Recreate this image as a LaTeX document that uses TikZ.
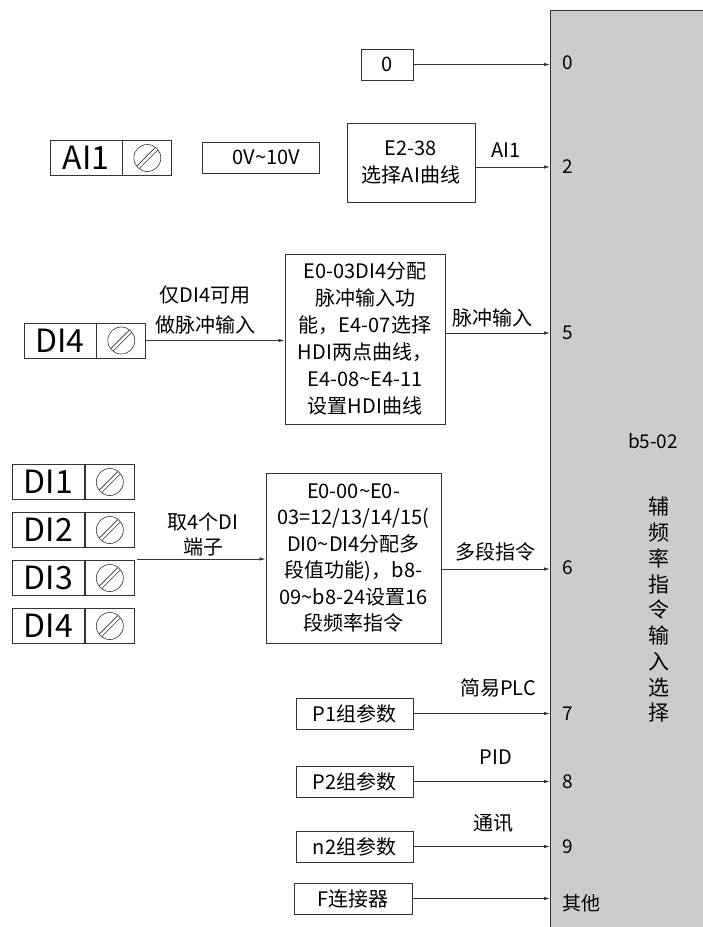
\documentclass[tikz,border=0pt]{standalone}
\usepackage{fontspec}
\setmainfont{Noto Sans CJK SC}
\usepackage{xcolor}
\usepackage{tikz}
\usetikzlibrary{arrows.meta,positioning}
\definecolor{panel}{HTML}{CCCCCC}
\definecolor{ink}{HTML}{333333}
\tikzset{
  box/.style={draw=ink, rectangle, line width=0.8pt, align=center, inner sep=2pt, font=\fontsize{20}{27}\selectfont},
  term/.style={box, minimum width=72pt, minimum height=35pt, inner sep=0pt, font=\fontsize{32}{32}\selectfont},
  screw/.style={draw=ink, rectangle, line width=0.8pt, minimum width=49pt, minimum height=35pt, inner sep=0pt,
    path picture={
      \draw[ink, line width=0.6pt] (path picture bounding box.center) circle[radius=13.5pt];
      \draw[ink, line width=0.6pt]
        (path picture bounding box.center) ++(-10.4pt,-8pt) -- ++(18.4pt,18.4pt)
        (path picture bounding box.center) ++(-8pt,-10.4pt) -- ++(18.4pt,18.4pt);
    }},
  bar/.style={draw=ink, fill=panel, line width=0.8pt, minimum width=170pt, minimum height=940pt, anchor=north west},
  pin/.style={anchor=west, inner sep=0pt, font=\fontsize{19}{22}\selectfont},
  lbl/.style={align=center, inner sep=0pt, font=\fontsize{20}{30}\selectfont},
  arr/.style={-{Latex[length=6pt,width=3.5pt]}, line width=0.8pt, draw=ink}
}

\begin{document}
\begin{tikzpicture}[x=1pt, y=-1pt]
\useasboundingbox (0,0) rectangle (702,927);
\node[bar] (sel) at (550,10) {};
\node[pin] (n0) at (562,63) {0};
\node[pin] (n2) at (562,167) {2};
\node[pin] (n5) at (562,333) {5};
\node[pin] (n6) at (562,568) {6};
\node[pin] (n7) at (562,714) {7};
\node[pin] (n8) at (562,782) {8};
\node[pin] (n9) at (562,847) {9};
\node[pin] (nx) at (562,903) {其他};
\node[font=\fontsize{19}{22}\selectfont] (code) at (653,441) {b5-02};
\node[align=center, font=\fontsize{21}{25.75}\selectfont] (title) at (659,610)
  {辅\\频\\率\\指\\令\\输\\入\\选\\择};

\node[box, minimum width=52pt, minimum height=31pt] (zero) at (387,64.5) {0};
\draw[arr] (zero) -- (zero -| sel.west);

\node[term] (ai1) at (86,158) {AI1};
\node[screw, right=0pt of ai1] (ai1s) {};
\node[box, minimum width=117pt, minimum height=31pt] (volt) at (260.5,157.5) {\hspace{12pt}0V\textasciitilde10V};
\node[box, minimum width=128pt, minimum height=79pt] (curve) at (411,162.5) {E2-38\\选择AI曲线};
\draw[arr] ([yshift=-4.5pt]curve.east) -- ([yshift=-4.5pt]curve.east -| sel.west);
\node[lbl] (lai) at (506,150) {AI1};

\node[term] (di4p) at (60,340.5) {DI4};
\node[screw, right=0pt of di4p] (di4ps) {};
\node[box, minimum width=160pt, minimum height=170pt] (pulse) at (365,339)
  {E0-03DI4分配\\脉冲输入功\\能，E4-07选择\\HDI两点曲线，\\E4-08\textasciitilde E4-11\\设置HDI曲线};
\draw[arr] (di4ps.east) -- (di4ps.east -| pulse.west);
\node[lbl] (lonly) at (205,310) {仅DI4可用\\做脉冲输入};
\draw[arr] ([yshift=6pt]pulse.east) -- ([yshift=6pt]pulse.east -| sel.west);
\node[lbl] (lpulse) at (492,318) {脉冲输入};

\node[term] (di1) at (48.5,482) {DI1};
\node[screw, right=0pt of di1] (di1s) {};
\node[term] (di2) at (48.5,530) {DI2};
\node[screw, right=0pt of di2] (di2s) {};
\node[term] (di3) at (48.5,578) {DI3};
\node[screw, right=0pt of di3] (di3s) {};
\node[term] (di4) at (48.5,626) {DI4};
\node[screw, right=0pt of di4] (di4s) {};
\coordinate (dsrc) at (137,559);
\node[box, minimum width=175pt, minimum height=170pt, font=\fontsize{20}{26.5}\selectfont] (multi) at (353.5,558)
  {E0-00\textasciitilde E0-\\03=12/13/14/15(\\DI0\textasciitilde DI4分配多\\段值功能)，b8-\\09\textasciitilde b8-24设置16\\段频率指令};
\draw[arr] (dsrc) -- (dsrc -| multi.west);
\node[lbl, font=\fontsize{20}{25}\selectfont] (lfour) at (203,534.5) {取4个DI\\端子};
\draw[arr] ([yshift=-11pt]multi.east) -- ([yshift=-11pt]multi.east -| sel.west);
\node[lbl] (lmulti) at (495,552) {多段指令};

\node[box, minimum width=117pt, minimum height=31pt] (p1) at (354.5,713.5) {P1组参数};
\draw[arr] (p1) -- (p1 -| sel.west);
\node[lbl] (lplc) at (498,688) {简易PLC};
\node[box, minimum width=117pt, minimum height=31pt] (p2) at (354.5,781.5) {P2组参数};
\draw[arr] (p2) -- (p2 -| sel.west);
\node[lbl] (lpid) at (496,757) {PID};
\node[box, minimum width=117pt, minimum height=31pt] (n2p) at (354.5,846.5) {n2组参数};
\draw[arr] (n2p) -- (n2p -| sel.west);
\node[lbl] (lcom) at (493,823) {通讯};
\node[box, minimum width=118pt, minimum height=31pt] (fcon) at (353,898.5) {F连接器};
\draw[arr] (fcon) -- (fcon -| sel.west);
\end{tikzpicture}
\end{document}
